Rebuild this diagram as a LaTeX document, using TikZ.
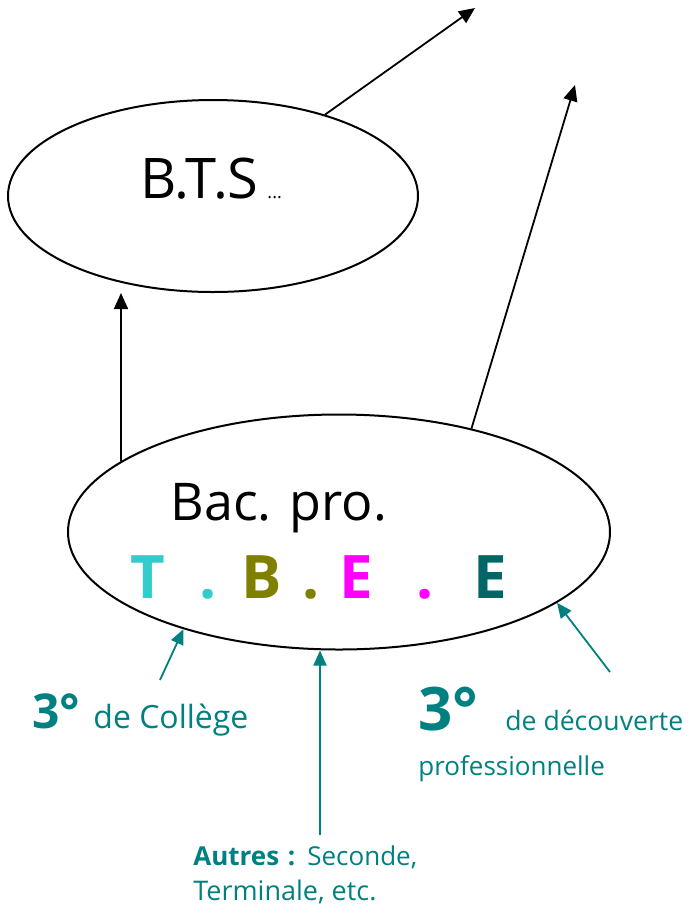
\documentclass[tikz,border=0pt]{standalone}
\usepackage{fontspec}
\setmainfont{Open Sans}
\usetikzlibrary{shapes.geometric,arrows.meta}

\definecolor{sarcelle}{HTML}{008080}
\definecolor{cyanT}{HTML}{33CCCC}
\definecolor{oliveB}{HTML}{808000}
\definecolor{magentaE}{HTML}{FF00FF}
\definecolor{tealE}{HTML}{006666}

\tikzset{
  filiere/.style={draw, ellipse, line width=1pt, inner sep=0pt},
  fleche/.style={-{Triangle[length=8pt,width=7pt]}, line width=0.9pt},
  acces/.style={-{Triangle[length=7.5pt,width=6.5pt]}, line width=0.9pt, draw=sarcelle},
  txt/.style={anchor=base west, inner sep=0pt},
}

\begin{document}
\begin{tikzpicture}[x=0.5pt,y=-0.5pt]
\useasboundingbox (0,0) rectangle (688,907);

% les deux formations
\node[filiere, minimum width=205pt, minimum height=96pt] (bts) at (213,196) {};
\node[filiere, minimum width=271pt, minimum height=117.5pt] (bac) at (339,532) {};

\node[txt, font=\fontsize{28}{30}\selectfont] (btsnom) at (140,198) {B.T.S};
\node[txt, font=\fontsize{9}{10}\selectfont, xshift=4pt] (btsetc) at (btsnom.base east) {...};
\node[txt, font=\fontsize{26}{30}\selectfont] (bacnom) at (170,520) {Bac. pro.};

% T.B.E.E en couleurs
\foreach \x/\c/\col [count=\i] in {148/T/cyanT, 208/./cyanT, 262/B/oliveB, 311/./oliveB,
    356/E/magentaE, 425/./magentaE, 490/E/tealE}
  \node[anchor=base, inner sep=0pt, text=\col, font=\bfseries\fontsize{30}{34}\selectfont]
    (tbee\i) at (\x,598) {\c};

% provenances
\begin{scope}[every node/.append style={text=sarcelle}]
\node[txt, font=\bfseries\fontsize{24}{28}\selectfont] (troisA) at (32,728) {3°};
\node[txt, font=\fontsize{16}{19}\selectfont] (college) at (93,728) {de Collège};
\node[txt, font=\bfseries\fontsize{30}{34}\selectfont] (troisB) at (418,730) {3°};
\node[txt, font=\fontsize{13.3}{16}\selectfont] (decouv) at (505,730) {de découverte};
\node[txt, font=\fontsize{13}{16}\selectfont] (pro) at (418,775) {professionnelle};
\node[txt, font=\fontsize{13}{15}\selectfont] (autres) at (193,865) {\textbf{Autres\,\,:}\hspace{6pt}Seconde,};
\node[txt, font=\fontsize{13.5}{15}\selectfont] (term) at (193,900) {Terminale, etc.};
\end{scope}

\coordinate (hautA) at (475,8);
\coordinate (hautB) at (575,85);
\coordinate (depcol) at (160,680);
\coordinate (depaut) at (320,835);
\coordinate (depdec) at (610,672);

\draw[fleche] (bts.36) -- (hautA);
\draw[fleche] (bac.38) -- (hautB);
\draw[fleche] (bac.162) -- (bac.162 |- bts.south);

\draw[acces] (depcol) -- (bac.212);
\draw[acces] (depaut) -- (depaut |- bac.south);
\draw[acces] (depdec) -- (bac.342);

\end{tikzpicture}
\end{document}
